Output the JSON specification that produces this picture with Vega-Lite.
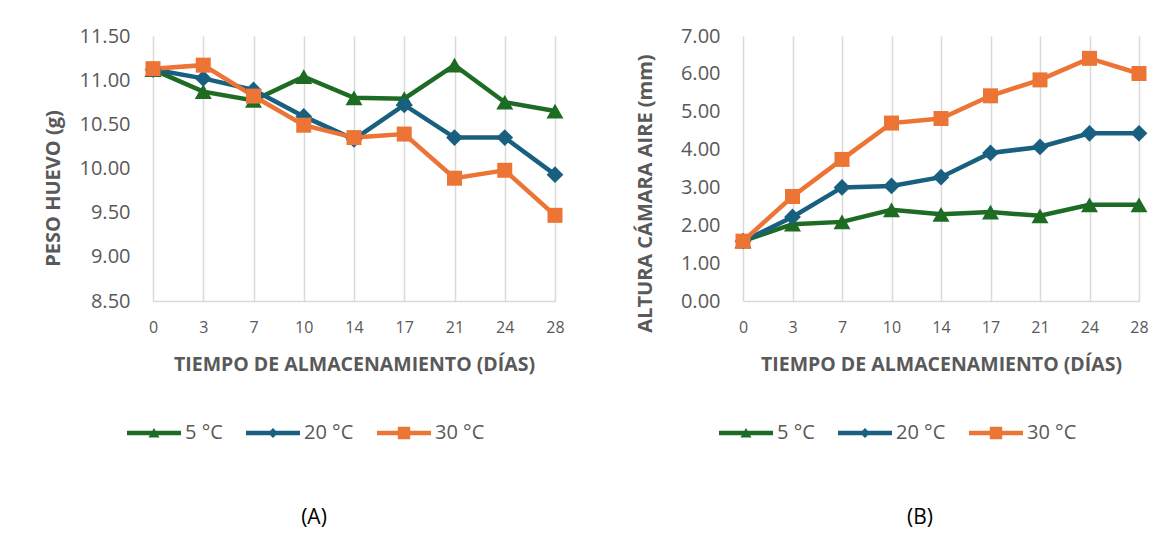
{
  "$schema": "https://vega.github.io/schema/vega-lite/v6.json",
  "padding": {"left": 43, "top": 26, "right": 5, "bottom": 5},
  "background": "white",
  "datasets": {
    "peso": [
      {"dia": 0, "serie": "5 °C", "valor": 11.12},
      {"dia": 3, "serie": "5 °C", "valor": 10.87},
      {"dia": 7, "serie": "5 °C", "valor": 10.77},
      {"dia": 10, "serie": "5 °C", "valor": 11.04},
      {"dia": 14, "serie": "5 °C", "valor": 10.80},
      {"dia": 17, "serie": "5 °C", "valor": 10.79},
      {"dia": 21, "serie": "5 °C", "valor": 11.17},
      {"dia": 24, "serie": "5 °C", "valor": 10.75},
      {"dia": 28, "serie": "5 °C", "valor": 10.65},
      {"dia": 0, "serie": "20 °C", "valor": 11.12},
      {"dia": 3, "serie": "20 °C", "valor": 11.02},
      {"dia": 7, "serie": "20 °C", "valor": 10.89},
      {"dia": 10, "serie": "20 °C", "valor": 10.59},
      {"dia": 14, "serie": "20 °C", "valor": 10.33},
      {"dia": 17, "serie": "20 °C", "valor": 10.72},
      {"dia": 21, "serie": "20 °C", "valor": 10.35},
      {"dia": 24, "serie": "20 °C", "valor": 10.35},
      {"dia": 28, "serie": "20 °C", "valor": 9.93},
      {"dia": 0, "serie": "30 °C", "valor": 11.13},
      {"dia": 3, "serie": "30 °C", "valor": 11.17},
      {"dia": 7, "serie": "30 °C", "valor": 10.82},
      {"dia": 10, "serie": "30 °C", "valor": 10.49},
      {"dia": 14, "serie": "30 °C", "valor": 10.35},
      {"dia": 17, "serie": "30 °C", "valor": 10.39},
      {"dia": 21, "serie": "30 °C", "valor": 9.89},
      {"dia": 24, "serie": "30 °C", "valor": 9.98},
      {"dia": 28, "serie": "30 °C", "valor": 9.47}
    ],
    "altura": [
      {"dia": 0, "serie": "5 °C", "valor": 1.58},
      {"dia": 3, "serie": "5 °C", "valor": 2.03},
      {"dia": 7, "serie": "5 °C", "valor": 2.09},
      {"dia": 10, "serie": "5 °C", "valor": 2.41},
      {"dia": 14, "serie": "5 °C", "valor": 2.29},
      {"dia": 17, "serie": "5 °C", "valor": 2.35},
      {"dia": 21, "serie": "5 °C", "valor": 2.25},
      {"dia": 24, "serie": "5 °C", "valor": 2.54},
      {"dia": 28, "serie": "5 °C", "valor": 2.54},
      {"dia": 0, "serie": "20 °C", "valor": 1.58},
      {"dia": 3, "serie": "20 °C", "valor": 2.22},
      {"dia": 7, "serie": "20 °C", "valor": 3.00},
      {"dia": 10, "serie": "20 °C", "valor": 3.04},
      {"dia": 14, "serie": "20 °C", "valor": 3.27},
      {"dia": 17, "serie": "20 °C", "valor": 3.91},
      {"dia": 21, "serie": "20 °C", "valor": 4.07},
      {"dia": 24, "serie": "20 °C", "valor": 4.43},
      {"dia": 28, "serie": "20 °C", "valor": 4.43},
      {"dia": 0, "serie": "30 °C", "valor": 1.58},
      {"dia": 3, "serie": "30 °C", "valor": 2.76},
      {"dia": 7, "serie": "30 °C", "valor": 3.74},
      {"dia": 10, "serie": "30 °C", "valor": 4.70},
      {"dia": 14, "serie": "30 °C", "valor": 4.82},
      {"dia": 17, "serie": "30 °C", "valor": 5.42},
      {"dia": 21, "serie": "30 °C", "valor": 5.84},
      {"dia": 24, "serie": "30 °C", "valor": 6.41},
      {"dia": 28, "serie": "30 °C", "valor": 6.01}
    ]
  },
  "config": {
    "font": "Open Sans",
    "view": {"stroke": null},
    "axis": {
      "labelColor": "#595959",
      "titleColor": "#595959",
      "labelFont": "Open Sans",
      "titleFont": "Open Sans",
      "ticks": false
    },
    "axisX": {
      "labelFontSize": 16,
      "labelPadding": 18,
      "labelAngle": 0,
      "titleFontSize": 19.5,
      "titleFontWeight": "bold",
      "titlePadding": 20,
      "grid": true,
      "gridColor": "#d9d9d9",
      "gridWidth": 1.5,
      "domainColor": "#d9d9d9",
      "domainWidth": 1.5
    },
    "axisY": {
      "labelFontSize": 20,
      "labelPadding": 23,
      "titleFontSize": 20,
      "titleFontWeight": "bold",
      "titlePadding": 16,
      "grid": false,
      "domain": false
    },
    "legend": {
      "labelFontSize": 20,
      "labelColor": "#595959",
      "labelFont": "Open Sans",
      "symbolSize": 400,
      "symbolStrokeWidth": 0,
      "labelOffset": 21,
      "columnPadding": 23,
      "symbolOpacity": 1
    },
    "title": {
      "fontSize": 21,
      "fontWeight": "normal",
      "color": "#000000",
      "font": "Open Sans"
    }
  },
  "spacing": 70,
  "resolve": {
    "scale": {"color": "independent", "shape": "independent"},
    "legend": {"color": "independent", "shape": "independent"}
  },
  "hconcat": [
    {
      "width": 402,
      "height": 265,
      "data": {"name": "peso"},
      "title": {"text": "(A)", "orient": "bottom", "anchor": "middle", "dx": -40, "offset": 64},
      "encoding": {
        "x": {
          "field": "dia", "type": "ordinal",
          "scale": {"type": "point", "padding": 0, "domain": [0, 3, 7, 10, 14, 17, 21, 24, 28]},
          "axis": {"title": "TIEMPO DE ALMACENAMIENTO (DÍAS)"}
        },
        "y": {
          "field": "valor", "type": "quantitative",
          "scale": {"domain": [8.5, 11.5], "nice": false, "zero": false},
          "axis": {"title": "PESO HUEVO (g)", "values": [8.5, 9, 9.5, 10, 10.5, 11, 11.5], "format": ".2f", "titleY": 152}
        }
      },
      "layer": [
        {
          "transform": [{"filter": "false"}],
          "mark": {"type": "point", "filled": true, "opacity": 1},
          "encoding": {
            "color": {
              "field": "serie", "type": "nominal",
              "scale": {"domain": ["5 °C", "20 °C", "30 °C"], "range": ["#1e6b24", "#185f80", "#ec7434"]},
              "legend": {"orient": "none", "legendX": -9, "legendY": 387, "direction": "horizontal", "title": null}
            },
            "shape": {
              "field": "serie", "type": "nominal",
              "scale": {"domain": ["5 °C", "20 °C", "30 °C"], "range": ["M-2.7,-0.22H2.7V0.22H-2.7Z M0,-0.5L0.55,0.45L-0.55,0.45Z", "M-2.7,-0.22H2.7V0.22H-2.7Z M0,-0.5L0.5,0L0,0.5L-0.5,0Z", "M-2.7,-0.22H2.7V0.22H-2.7Z M-0.62,-0.62H0.62V0.62H-0.62Z"]},
              "legend": {"orient": "none", "legendX": -9, "legendY": 387, "direction": "horizontal", "title": null}
            }
          }
        },
        {"mark": {"type": "line", "strokeWidth": 4.5}, "encoding": {"color": {"field": "serie", "type": "nominal", "legend": null}}},
        {"transform": [{"filter": "datum.serie === '5 °C'"}], "mark": {"type": "point", "filled": true, "opacity": 1, "shape": "triangle-up", "size": 289}, "encoding": {"color": {"field": "serie", "type": "nominal", "legend": null}}},
        {"transform": [{"filter": "datum.serie === '20 °C'"}], "mark": {"type": "point", "filled": true, "opacity": 1, "shape": "diamond", "size": 280}, "encoding": {"color": {"field": "serie", "type": "nominal", "legend": null}}},
        {"transform": [{"filter": "datum.serie === '30 °C'"}], "mark": {"type": "point", "filled": true, "opacity": 1, "shape": "square", "size": 225}, "encoding": {"color": {"field": "serie", "type": "nominal", "legend": null}}}
      ]
    },
    {
      "width": 396,
      "height": 265,
      "data": {"name": "altura"},
      "title": {"text": "(B)", "orient": "bottom", "anchor": "middle", "dx": -21, "offset": 64},
      "encoding": {
        "x": {
          "field": "dia", "type": "ordinal",
          "scale": {"type": "point", "padding": 0, "domain": [0, 3, 7, 10, 14, 17, 21, 24, 28]},
          "axis": {"title": "TIEMPO DE ALMACENAMIENTO (DÍAS)"}
        },
        "y": {
          "field": "valor", "type": "quantitative",
          "scale": {"domain": [0, 7], "nice": false},
          "axis": {"title": "ALTURA CÁMARA AIRE (mm)", "values": [0, 1, 2, 3, 4, 5, 6, 7], "format": ".2f", "titleY": 157, "titlePadding": 25}
        }
      },
      "layer": [
        {
          "transform": [{"filter": "false"}],
          "mark": {"type": "point", "filled": true, "opacity": 1},
          "encoding": {
            "color": {
              "field": "serie", "type": "nominal",
              "scale": {"domain": ["5 °C", "20 °C", "30 °C"], "range": ["#1e6b24", "#185f80", "#ec7434"]},
              "legend": {"orient": "none", "legendX": -7, "legendY": 387, "direction": "horizontal", "title": null}
            },
            "shape": {
              "field": "serie", "type": "nominal",
              "scale": {"domain": ["5 °C", "20 °C", "30 °C"], "range": ["M-2.7,-0.22H2.7V0.22H-2.7Z M0,-0.5L0.55,0.45L-0.55,0.45Z", "M-2.7,-0.22H2.7V0.22H-2.7Z M0,-0.5L0.5,0L0,0.5L-0.5,0Z", "M-2.7,-0.22H2.7V0.22H-2.7Z M-0.62,-0.62H0.62V0.62H-0.62Z"]},
              "legend": {"orient": "none", "legendX": -7, "legendY": 387, "direction": "horizontal", "title": null}
            }
          }
        },
        {"mark": {"type": "line", "strokeWidth": 4.5}, "encoding": {"color": {"field": "serie", "type": "nominal", "legend": null}}},
        {"transform": [{"filter": "datum.serie === '5 °C'"}], "mark": {"type": "point", "filled": true, "opacity": 1, "shape": "triangle-up", "size": 289}, "encoding": {"color": {"field": "serie", "type": "nominal", "legend": null}}},
        {"transform": [{"filter": "datum.serie === '20 °C'"}], "mark": {"type": "point", "filled": true, "opacity": 1, "shape": "diamond", "size": 280}, "encoding": {"color": {"field": "serie", "type": "nominal", "legend": null}}},
        {"transform": [{"filter": "datum.serie === '30 °C'"}], "mark": {"type": "point", "filled": true, "opacity": 1, "shape": "square", "size": 225}, "encoding": {"color": {"field": "serie", "type": "nominal", "legend": null}}}
      ]
    }
  ]
}
